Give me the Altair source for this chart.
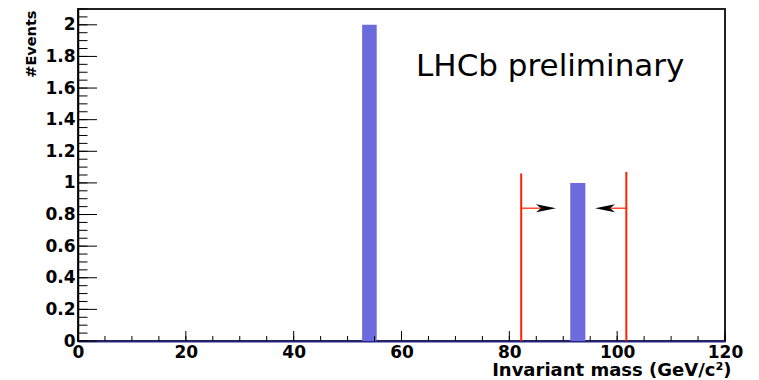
import altair as alt
import pandas as pd

# ---- data ----
bin_lo = [52.7, 91.3]
bin_hi = [55.4, 94.1]
counts = [2, 1]

cut_x = [82.2, 101.7]
cut_top = [1.06, 1.07]

arrow_y = [0.84, 0.84]
shaft_from = [82.2, 101.7]
shaft_to = [86.0, 98.5]
head_x = [86.8, 97.75]
head_angle = [0, 180]

x_major = [0, 20, 40, 60, 80, 100, 120]
x_minor = [0, 5, 10, 15, 20, 25, 30, 35, 40, 45, 50, 55, 60, 65, 70, 75, 80,
           85, 90, 95, 100, 105, 110, 115, 120]
y_major = [0, 0.2, 0.4, 0.6, 0.8, 1.0, 1.2, 1.4, 1.6, 1.8, 2.0]
y_minor = [round(i * 0.05, 2) for i in range(43)]

label_text = ["LHCb preliminary"]
label_x = [62.7]
label_y = [1.676]

W, H = 647, 332
RED = "#ff2200"
BAR = "#6b6bdd"
FONT = "DejaVu Sans"

xs = alt.Scale(domain=[0, 120], nice=False, zero=False)
ys = alt.Scale(domain=[0, 2.1], nice=False, zero=False)

xaxis = alt.Axis(values=x_major, format="d", labelFont=FONT, labelFontWeight="bold",
                 labelFontSize=17, labelColor="black", labelPadding=3, ticks=False,
                 domainColor="#25257f", domainWidth=2, grid=False,
                 title="Invariant mass (GeV/c²)", titleFont=FONT, titleFontWeight="bold",
                 titleFontSize=18, titleColor="black", titleAlign="right", titleAnchor="end",
                 titleX=653, titleY=34, titleBaseline="alphabetic", labelFlush=False)
yaxis = alt.Axis(values=y_major, format=".1~f", labelFont=FONT, labelFontWeight="bold",
                 labelFontSize=17, labelColor="black", labelPadding=3, ticks=False,
                 domainColor="black", domainWidth=1.5, grid=False,
                 title="#Events", titleFont=FONT, titleFontWeight="bold", titleFontSize=14.5,
                 titleColor="black", titleAngle=270, titleAlign="right",
                 titleBaseline="alphabetic", titleX=-43, titleY=1)

def X(f):
    return alt.X(f, scale=xs, axis=xaxis)

def Y(f):
    return alt.Y(f, scale=ys, axis=yaxis)

bars_df = pd.DataFrame({"lo": bin_lo, "hi": bin_hi, "n": counts})
bars = alt.Chart(bars_df).mark_rect(color=BAR).encode(
    x=X("lo:Q"), x2="hi:Q", y=Y("n:Q"), y2=alt.datum(0),
)

# ticks (ROOT style, pointing inwards)
xmin_df = pd.DataFrame({"v": x_minor})
xmaj_df = pd.DataFrame({"v": x_major})
ymin_df = pd.DataFrame({"v": y_minor})
ymaj_df = pd.DataFrame({"v": y_major})

xt_minor = alt.Chart(xmin_df).mark_rule(color="black", strokeWidth=1).encode(
    x=X("v:Q"), y=alt.value(H), y2=alt.value(H - 5))
xt_major = alt.Chart(xmaj_df).mark_rule(color="black", strokeWidth=1).encode(
    x=X("v:Q"), y=alt.value(H), y2=alt.value(H - 10))
yt_minor = alt.Chart(ymin_df).mark_rule(color="black", strokeWidth=1).encode(
    y=Y("v:Q"), x=alt.value(0), x2=alt.value(9.5))
yt_major = alt.Chart(ymaj_df).mark_rule(color="black", strokeWidth=1).encode(
    y=Y("v:Q"), x=alt.value(0), x2=alt.value(19))

cuts_df = pd.DataFrame({"cx": cut_x, "top": cut_top})
cuts = alt.Chart(cuts_df).mark_rule(color=RED, strokeWidth=2).encode(
    x=X("cx:Q"), y=Y("top:Q"), y2=alt.datum(0),
)

shaft_df = pd.DataFrame({"a": shaft_from, "b": shaft_to, "ay": arrow_y})
shafts = alt.Chart(shaft_df).mark_rule(color=RED, strokeWidth=1.2).encode(
    x=X("a:Q"), x2="b:Q", y=Y("ay:Q"),
)

head_df = pd.DataFrame({"hx": head_x, "ay": arrow_y, "ang": head_angle})
heads = alt.Chart(head_df).mark_point(
    shape="M1,0 L-1,-0.4 L-0.5,0 L-1,0.4 Z", filled=True, color="black",
    size=400, opacity=1, strokeWidth=0,
).encode(
    x=X("hx:Q"), y=Y("ay:Q"), angle=alt.Angle("ang:Q", scale=None),
)

lab_df = pd.DataFrame({"x": label_x, "y": label_y, "t": label_text})
label = alt.Chart(lab_df).mark_text(
    align="left", baseline="alphabetic", font=FONT, fontSize=31, color="black"
).encode(
    x=X("x:Q"), y=Y("y:Q"), text="t:N",
)

chart = alt.layer(
    bars, xt_minor, xt_major, yt_minor, yt_major, cuts, shafts, heads, label
).properties(
    width=W, height=H,
    autosize=alt.AutoSizeParams(type="none"),
    padding={"left": 78, "top": 9, "right": 34, "bottom": 39},
    background="white",
).configure_view(stroke="#222222", strokeWidth=2)

chart.save("out.html", embed_options={"renderer": "svg", "actions": False})
